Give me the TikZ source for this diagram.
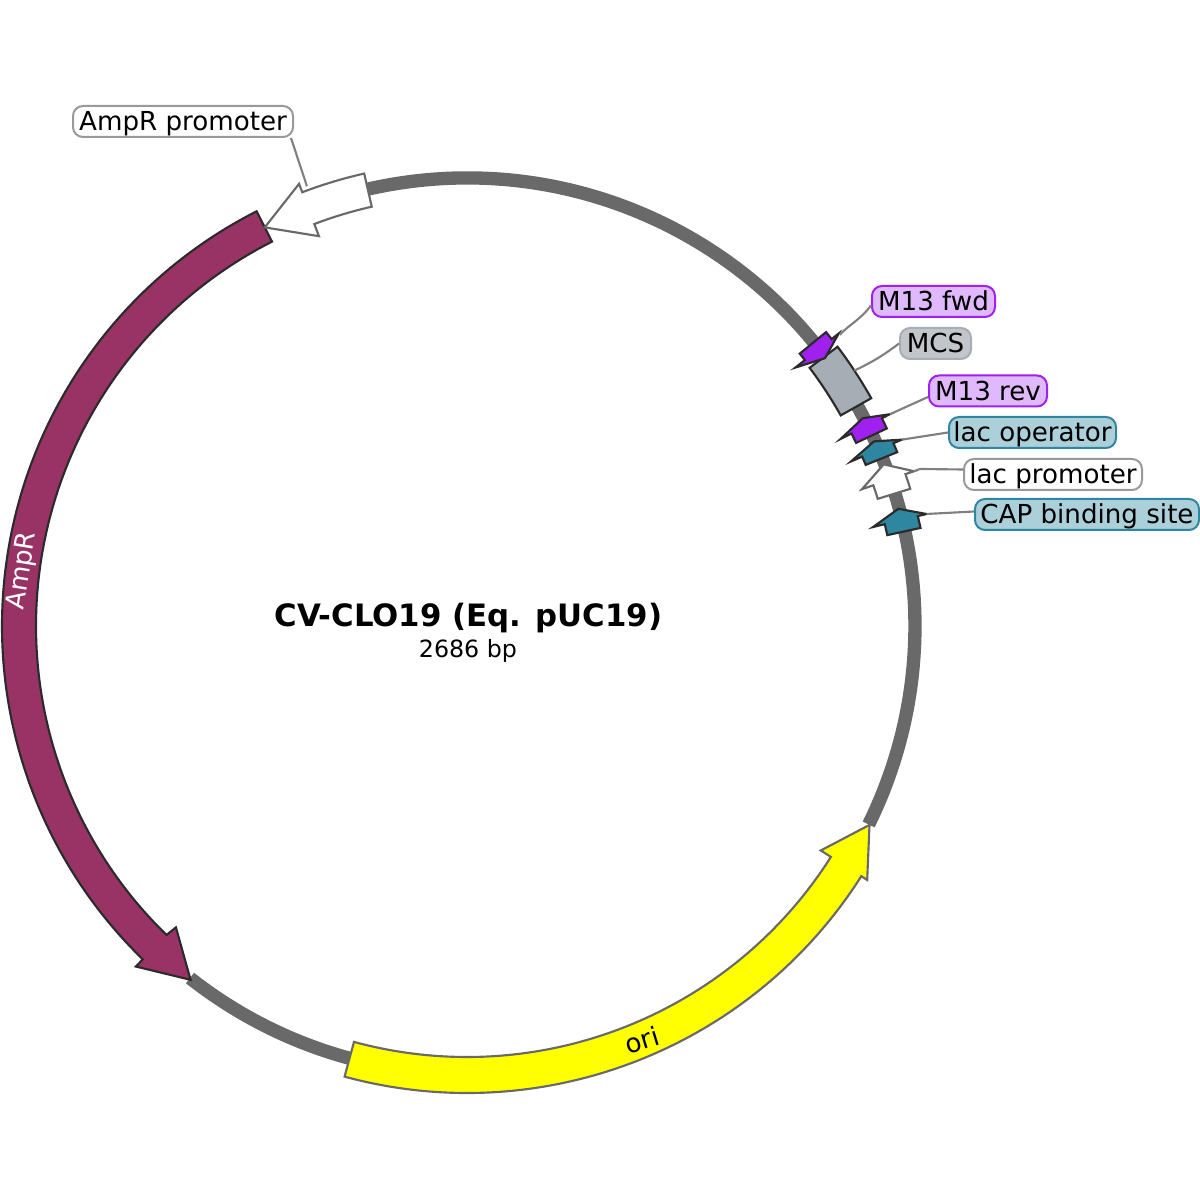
\documentclass[tikz,border=0pt]{standalone}
\usepackage{fontspec}
\setmainfont{DejaVu Sans}
\definecolor{bb}{HTML}{696969}
\definecolor{amp}{HTML}{993366}
\definecolor{purp}{HTML}{A020F0}
\definecolor{purpl}{HTML}{E0B8FC}
\definecolor{teal2}{HTML}{2E86A0}
\definecolor{teall}{HTML}{ABD0DA}
\definecolor{mcsg}{HTML}{A6ADB4}
\definecolor{mcsl}{HTML}{C2C6CB}
\definecolor{lead}{HTML}{808080}
\definecolor{dk}{HTML}{2B2B2B}
\definecolor{oriy}{RGB}{255,255,0}
\tikzset{
  lab/.style={draw,rounded corners=10*0.75pt,line width=1.5pt,inner sep=0pt,font=\fontsize{19.6pt}{22pt}\selectfont,text=black,anchor=center,minimum height=23.25pt,text height=15pt,text depth=1pt},
  labp/.style={lab,draw=purp,fill=purpl},
  labg/.style={lab,draw=mcsg,fill=mcsl},
  labt/.style={lab,draw=teal2,fill=teall},
  labw/.style={lab,draw=lead!80!white,fill=white},
  leader/.style={draw=lead,line width=1.6pt},
  backbone/.style={draw=bb,line width=10pt},
  fd/.style={draw=dk,line width=1.6pt,line join=miter},
  fl/.style={draw=bb,line width=1.6pt,line join=miter},
}
\newcommand{\feat}[4]{%
  \path[#4] (#1:464) arc[start angle=#1,end angle=#2,radius=464] -- (#2:473) -- (#3:447) -- (#2:418) -- (#2:430) arc[start angle=#2,end angle=#1,radius=430] -- cycle;}
\begin{document}
\begin{tikzpicture}[x=0.75pt,y=0.75pt]
\useasboundingbox (0,0) rectangle (1200,1200);
\begin{scope}[shift={(467,574)}]
  % backbone
  \draw[backbone] (102.8:448) arc[start angle=102.8,end angle=-26.3,radius=448];
  \draw[backbone] (231.8:448) arc[start angle=231.8,end angle=254.8,radius=448];
  % AmpR
  \path[fd,fill=amp] (116.9:465) arc[start angle=116.9,end angle=225.8,radius=465] -- (225.8:475) -- (232:449) -- (226:419) -- (225.8:431) arc[start angle=225.8,end angle=116.9,radius=431] -- cycle;
  % AmpR promoter
  \path[fl,fill=white] (102.8:464) arc[start angle=102.8,end angle=110.8,radius=464] -- (110.8:473) -- (116.9:447) -- (110.8:417) -- (110.8:430) arc[start angle=110.8,end angle=102.8,radius=430] -- cycle;
  % ori
  \path[fl,fill=oriy] (254.8:467) arc[start angle=254.8,end angle=327.6,radius=467] -- (327.6:474) -- (333.7:449) -- (327.6:419) -- (327.6:431) arc[start angle=327.6,end angle=254.8,radius=431] -- cycle;
  % MCS
  \path[fd,fill=mcsg] (37:464) arc[start angle=37,end angle=29.4,radius=464] -- (29.4:429) arc[start angle=29.4,end angle=37,radius=429] -- cycle;
  % small features
  \feat{39.3}{38.2}{36.8}{fd,fill=purp}
  \feat{25.2}{26.6}{27.7}{fd,fill=purp}
  \feat{22.0}{23.2}{24.4}{fd,fill=teal2}
  \feat{17.2}{19.1}{21.2}{fl,fill=white}
  \feat{12.2}{13.7}{15.2}{fd,fill=teal2}
  % leader ends on features
  \coordinate (pF) at (38.0:473);
  \coordinate (pM) at (33.4:464);
  \coordinate (pR) at (26.6:473);
  \coordinate (pO) at (23.2:473);
  \coordinate (pL) at (19.1:473);
  \coordinate (pC) at (13.7:473);
  \coordinate (pA) at (110:468);
\end{scope}
% labels
\node[labp,minimum width=92.25pt] (lF) at (933.5,898.5) {M13 fwd};
\node[labg,minimum width=53.25pt] (lM) at (935.5,856.5) {MCS};
\node[labp,minimum width=88.5pt] (lR) at (988,809) {M13 rev};
\node[labt,minimum width=125.25pt] (lO) at (1032.5,767.5) {lac operator};
\node[labw,minimum width=133.5pt] (lL) at (1053,725.5) {lac promoter};
\node[labt,minimum width=168pt] (lC) at (1087,685.5) {CAP binding site};
\node[labw,minimum width=165pt] (lA) at (183,1078.5) {AmpR promoter};
% leaders
\draw[leader] (lF.west) ++(0,-4) .. controls (860,880) and (850,876) .. (pF);
\draw[leader] (lM.west) .. controls (880,842) and (868,836) .. (pM);
\draw[leader] (lR.west) ++(0,-6) -- (pR);
\draw[leader] (lO.west) -- (pO);
\draw[leader] (lL.west) ++(0,5) -- (920,731) -- (pL);
\draw[leader] (lC.west) ++(0,3) -- (pC);
\draw[leader] (lA.south east) ++(-3,0) -- (pA);
% texts
\node[font=\fontsize{23.1pt}{26pt}\selectfont\bfseries] (title) at (468.5,581.5) {CV-CLO19 (Eq. pUC19)};
\node[font=\fontsize{17.8pt}{20pt}\selectfont] (size) at (468,549.5) {2686 bp};
\node[font=\fontsize{19.6pt}{22pt}\selectfont,text=white,rotate=81] (tA) at (23,629) {AmpR};
\node[font=\fontsize{19.6pt}{22pt}\selectfont,rotate=17] (tO) at (642,160) {ori};
\end{tikzpicture}
\end{document}
